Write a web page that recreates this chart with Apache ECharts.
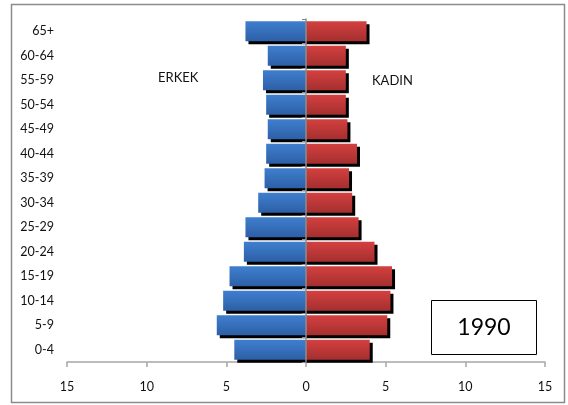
<!DOCTYPE html>
<html>
<head>
<meta charset="utf-8">
<script src="https://cdn.jsdelivr.net/npm/echarts@6/dist/echarts.min.js"></script>
<style>
  html, body { margin: 0; padding: 0; background: #fff; }
  #chart { width: 568px; height: 405px; }
</style>
</head>
<body>
<div id="chart"></div>
<script>
// Age groups, youngest at the bottom
const ageGroups = ['0-4', '5-9', '10-14', '15-19', '20-24', '25-29', '30-34',
                   '35-39', '40-44', '45-49', '50-54', '55-59', '60-64', '65+'];
// Share of population (%) by age group
const erkek = [4.5, 5.6, 5.2, 4.8, 3.9, 3.8, 3.0, 2.6, 2.5, 2.4, 2.5, 2.7, 2.4, 3.8];
const kadin = [4.0, 5.1, 5.3, 5.4, 4.3, 3.3, 2.9, 2.7, 3.2, 2.6, 2.5, 2.5, 2.5, 3.8];
const xTicks = [-15, -10, -5, 0, 5, 10, 15];
const yearLabel = '1990';

const FONT = 'Lato, "Open Sans", sans-serif';
const GRID = { left: 67, right: 23, top: 19, bottom: 43 };
const CHART_W = 568;

const chart = echarts.init(document.getElementById('chart'), null, { renderer: 'canvas' });

const barShadow = { shadowColor: '#000', shadowBlur: 0, shadowOffsetX: 3, shadowOffsetY: 3 };

// second category axis is shifted from the grid's left edge onto x = 0
const plotW = CHART_W - GRID.left - GRID.right;
const zeroOffset = -plotW * (0 - xTicks[0]) / (xTicks[xTicks.length - 1] - xTicks[0]);

chart.setOption({
  animation: false,
  backgroundColor: '#fff',
  grid: Object.assign({ containLabel: false }, GRID),
  xAxis: {
    type: 'value',
    min: xTicks[0],
    max: xTicks[xTicks.length - 1],
    interval: 5,
    axisLine: { show: true, lineStyle: { color: '#a6a6a6', width: 1.5 } },
    axisTick: { show: true, length: 5, lineStyle: { color: '#a6a6a6', width: 1.5 } },
    splitLine: { show: false },
    axisLabel: {
      margin: 18,
      color: '#111',
      fontFamily: FONT,
      fontSize: 12.5,
      formatter: v => String(Math.abs(v))
    }
  },
  yAxis: [
    {
      type: 'category',
      data: ageGroups,
      position: 'left',
      axisLine: { show: false },
      axisTick: { show: false },
      axisLabel: { margin: 13, color: '#111', fontFamily: FONT, fontSize: 12.5 }
    },
    {
      type: 'category',
      data: ageGroups,
      position: 'left',
      offset: zeroOffset,
      z: 5,
      axisLine: { show: true, onZero: false, lineStyle: { color: '#8c8c8c', width: 1.5 } },
      axisTick: { show: true, length: 4, lineStyle: { color: '#8c8c8c' } },
      axisLabel: { show: false }
    }
  ],
  series: [
    {
      name: 'ERKEK',
      type: 'bar',
      stack: 'pop',
      yAxisIndex: 0,
      barCategoryGap: '18%',
      data: erkek.map(v => -v),
      itemStyle: Object.assign({
        color: new echarts.graphic.LinearGradient(0, 0, 0, 1, [
          { offset: 0, color: '#3f7fcf' },
          { offset: 1, color: '#2d5fa6' }
        ])
      }, barShadow)
    },
    {
      name: 'KADIN',
      type: 'bar',
      stack: 'pop',
      yAxisIndex: 0,
      barCategoryGap: '18%',
      data: kadin,
      itemStyle: Object.assign({
        color: new echarts.graphic.LinearGradient(0, 0, 0, 1, [
          { offset: 0, color: '#d44040' },
          { offset: 1, color: '#a52f2f' }
        ])
      }, barShadow)
    }
  ],
  graphic: [
    {
      type: 'rect',
      shape: { x: 11.5, y: 4.5, width: 553, height: 398 },
      style: { fill: null, stroke: '#8c8c8c', lineWidth: 1.5 },
      silent: true
    },
    {
      type: 'text',
      left: 158, top: 71,
      style: { text: 'ERKEK', font: '13px ' + FONT, fill: '#111' }
    },
    {
      type: 'text',
      left: 372, top: 74,
      style: { text: 'KADIN', font: '13px ' + FONT, fill: '#111' }
    },
    {
      type: 'group',
      left: 431, top: 300,
      children: [
        {
          type: 'rect',
          shape: { x: 0.5, y: 0.5, width: 105, height: 54 },
          style: { fill: '#fff', stroke: '#000', lineWidth: 1 }
        },
        {
          type: 'text',
          x: 53, y: 28,
          style: { text: yearLabel, font: '23px ' + FONT, fill: '#000', align: 'center', verticalAlign: 'middle' }
        }
      ]
    }
  ]
});
</script>
</body>
</html>
